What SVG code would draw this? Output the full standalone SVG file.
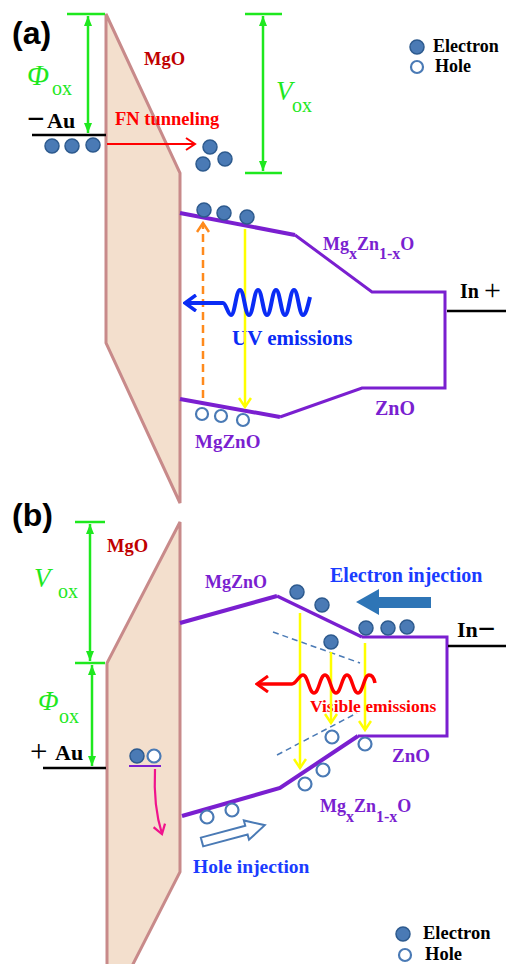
<svg xmlns="http://www.w3.org/2000/svg" width="506" height="964" viewBox="0 0 506 964">
<style>
.lbl{font-family:"Liberation Serif","Times New Roman",serif;font-weight:bold}
.pan{font-family:"Liberation Sans",Arial,sans-serif;font-weight:bold;font-size:32px;fill:#000}
.grn{font-family:"Liberation Serif","Times New Roman",serif;fill:#1ee81e}
.pur{fill:#7a1fd0}
.barrier{fill:#f3dfcd;stroke:#c88a8a;stroke-width:3;stroke-linejoin:miter}
.gline{stroke:#1ee81e;stroke-width:2.5;fill:none}
.band{stroke:#7a1fd0;fill:none;stroke-linejoin:miter}
.blk{stroke:#000;stroke-width:2.5}
.el{fill:#4a7ab5;stroke:#2d5a8e;stroke-width:1.5}
.ho{fill:#fff;stroke:#4a7ab5;stroke-width:2.2}
.yel{stroke:#ffff00;stroke-width:2.5;fill:none}
.dsh{stroke:#4a7ab5;stroke-width:1.5;stroke-dasharray:6 4;fill:none}
</style>
<defs>
<marker id="gh" markerUnits="userSpaceOnUse" markerWidth="10" markerHeight="8" refX="10" refY="4" orient="auto-start-reverse"><path d="M0,0 L10,4 L0,8 Z" fill="#1ee81e"/></marker>
<marker id="yh" markerUnits="userSpaceOnUse" markerWidth="12" markerHeight="14" refX="10" refY="7" orient="auto"><path d="M1,1 L10,7 L1,13" fill="none" stroke="#ffff00" stroke-width="2.5"/></marker>
<marker id="oh" markerUnits="userSpaceOnUse" markerWidth="12" markerHeight="14" refX="10" refY="7" orient="auto"><path d="M1,1 L10,7 L1,13" fill="none" stroke="#ff8a1c" stroke-width="2.5"/></marker>
<marker id="rh" markerUnits="userSpaceOnUse" markerWidth="12" markerHeight="14" refX="10" refY="7" orient="auto"><path d="M1,1 L10,7 L1,13" fill="none" stroke="#ff0000" stroke-width="2"/></marker>
<marker id="bwh" markerUnits="userSpaceOnUse" markerWidth="14" markerHeight="18" refX="12" refY="9" orient="auto-start-reverse"><path d="M1,1 L12,9 L1,17" fill="none" stroke="#0a2cf5" stroke-width="3.5"/></marker>
<marker id="rwh" markerUnits="userSpaceOnUse" markerWidth="14" markerHeight="18" refX="12" refY="9" orient="auto-start-reverse"><path d="M1,1 L12,9 L1,17" fill="none" stroke="#ff0000" stroke-width="3"/></marker>
<marker id="ph" markerUnits="userSpaceOnUse" markerWidth="12" markerHeight="14" refX="10" refY="7" orient="auto"><path d="M1,1 L10,7 L1,13" fill="none" stroke="#f0148c" stroke-width="2.2"/></marker>
</defs>

<!-- ===== Panel (a) ===== -->
<g id="panel-a-label"><text class="pan" x="12" y="44">(a)</text></g>
<g id="barrier-a"><polygon class="barrier" points="106,14 180,173 180,503 106,343"/></g>
<g id="mgo-a"><text class="lbl" x="144" y="65" font-size="18.5" fill="#c00000">MgO</text></g>

<g id="au-a">
<line class="blk" x1="32" y1="135" x2="106" y2="135"/>
<text class="lbl" x="27" y="129" font-size="31" fill="#000">−</text>
<text class="lbl" x="47" y="128" font-size="22" fill="#000">Au</text>
<circle class="el" cx="52" cy="146" r="7"/>
<circle class="el" cx="72" cy="146" r="7"/>
<circle class="el" cx="93" cy="145" r="7"/>
</g>

<g id="phi-a">
<line class="gline" x1="67" y1="14" x2="105" y2="14"/>
<text class="grn" x="27" y="85" font-size="29" font-style="italic">Φ</text>
<text class="grn" x="52" y="95" font-size="20">ox</text>
</g>
<g id="vox-a">
<line class="gline" x1="245" y1="14" x2="282" y2="14"/>
<line class="gline" x1="245" y1="173" x2="282" y2="173"/>
<text class="grn" x="276" y="100" font-size="27" font-style="italic">V</text>
<text class="grn" x="292" y="112" font-size="20">ox</text>
</g>

<g id="fn-a">
<text class="lbl" x="115" y="125" font-size="18.5" fill="#ff0000">FN tunneling</text>
<circle class="el" cx="210" cy="147" r="7"/>
<circle class="el" cx="225" cy="159" r="7"/>
<circle class="el" cx="203" cy="164" r="7"/>
</g>

<g id="bands-a">
<path class="band" stroke-width="4" d="M180,213 L295,235"/>
<path class="band" stroke-width="3" d="M295,235 L372,292 L445,292 L445,388 L362,388 L280,417"/>
<path class="band" stroke-width="4" d="M280,417 L180,399"/>
<text class="lbl pur" font-size="18"><tspan x="323" y="250">Mg</tspan><tspan font-size="16" dy="9">x</tspan><tspan dy="-9">Zn</tspan><tspan font-size="16" dy="9">1-x</tspan><tspan dy="-9">O</tspan></text>
<text class="lbl pur" x="375" y="415" font-size="20">ZnO</text>
<text class="lbl pur" x="195" y="448" font-size="19">MgZnO</text>
</g>

<g id="in-a">
<line class="blk" x1="447" y1="311" x2="506" y2="311"/>
<text class="lbl" x="460" y="298" font-size="20" fill="#000">In</text>
<text x="484" y="300" font-size="30" fill="#000" font-family="Liberation Serif,serif">+</text>
</g>

<g id="carriers-a">
<circle class="el" cx="204" cy="210" r="7"/>
<circle class="el" cx="224" cy="213" r="7"/>
<circle class="el" cx="247" cy="217" r="7"/>
<circle class="ho" cx="202" cy="414" r="6"/>
<circle class="ho" cx="221" cy="416" r="6"/>
<circle class="ho" cx="243" cy="420" r="6"/>
</g>

<g id="uv-a">
<text class="lbl" x="232" y="345" font-size="21" fill="#0a2cf5">UV emissions</text>
</g>

<g id="legend-a">
<circle class="el" cx="417" cy="47" r="7"/>
<text class="lbl" x="433" y="52" font-size="18" fill="#000">Electron</text>
<circle class="ho" cx="417" cy="67" r="6"/>
<text class="lbl" x="435" y="72" font-size="18" fill="#000">Hole</text>
</g>

<!-- ===== Panel (b) ===== -->
<g id="panel-b-label"><text class="pan" x="12" y="526">(b)</text></g>
<g id="barrier-b"><polygon class="barrier" points="180,522 180,872 130,970 107,970 107,663"/></g>
<g id="mgo-b"><text class="lbl" x="107" y="552" font-size="18.5" fill="#c00000">MgO</text></g>

<g id="vox-b">
<line class="gline" x1="75" y1="522" x2="105" y2="522"/>
<line class="gline" x1="75" y1="663" x2="105" y2="663"/>
<text class="grn" x="34" y="587" font-size="27" font-style="italic">V</text>
<text class="grn" x="58" y="598" font-size="20">ox</text>
</g>
<g id="phi-b">
<text class="grn" x="38" y="710" font-size="27" font-style="italic">Φ</text>
<text class="grn" x="59" y="723" font-size="20">ox</text>
</g>

<g id="au-b">
<line class="blk" x1="43" y1="768" x2="106" y2="768"/>
<text x="30" y="762" font-size="31" fill="#000" font-family="Liberation Serif,serif">+</text>
<text class="lbl" x="55" y="760" font-size="22" fill="#000">Au</text>
</g>

<g id="pair-b">
<line x1="129" y1="766" x2="161" y2="766" stroke="#7a1fd0" stroke-width="2"/>
<circle class="el" cx="137" cy="756" r="7"/>
<circle class="ho" cx="154" cy="756" r="6.5"/>
</g>

<g id="bands-b">
<path class="band" stroke-width="4" d="M180,623 L277,596"/>
<path class="band" stroke-width="3.5" d="M277,596 L362,637"/>
<path class="band" stroke-width="3" d="M362,637 L447,637 L447,736 L358,736"/>
<path class="band" stroke-width="4" d="M358,736 L280,788 L182,816"/>
<text class="lbl pur" x="205" y="588" font-size="18">MgZnO</text>
<text class="lbl pur" x="392" y="762" font-size="19">ZnO</text>
<text class="lbl pur" font-size="18"><tspan x="320" y="812">Mg</tspan><tspan font-size="16" dy="10">x</tspan><tspan dy="-10">Zn</tspan><tspan font-size="16" dy="10">1-x</tspan><tspan dy="-10">O</tspan></text>
</g>

<g id="in-b">
<line class="blk" x1="448" y1="646" x2="506" y2="646"/>
<text class="lbl" x="457" y="637" font-size="22" fill="#000">In<tspan font-size="31" dy="2">−</tspan></text>
</g>

<g id="electron-injection-b">
<text class="lbl" x="330" y="582" font-size="20" fill="#1a3cff">Electron injection</text>
<polygon points="356,602 379,589 379,597 431,597 431,608 379,608 379,615" fill="#2e75b6"/>
</g>

<g id="carriers-b">
<circle class="el" cx="297" cy="592" r="7"/>
<circle class="el" cx="322" cy="605" r="7"/>
<circle class="el" cx="366" cy="628" r="7"/>
<circle class="el" cx="388" cy="628" r="7"/>
<circle class="el" cx="407" cy="627" r="7"/>
<circle class="el" cx="331" cy="642" r="7"/>
<circle class="ho" cx="332" cy="737" r="6.5"/>
<circle class="ho" cx="365" cy="744" r="6.5"/>
<circle class="ho" cx="323" cy="770" r="6.5"/>
<circle class="ho" cx="305" cy="784" r="6.5"/>
<circle class="ho" cx="232" cy="810" r="6.5"/>
<circle class="ho" cx="207" cy="817" r="6.5"/>
</g>

<g id="visible-b">
<text class="lbl" x="310" y="712" font-size="17.5" fill="#ff0000">Visible emissions</text>
</g>

<g id="hole-injection-b">
<path d="M0,-4.5 L46,-4.5 L46,-10 L65,0 L46,10 L46,4.5 L0,4.5 Z" transform="translate(202,842) rotate(-15)" fill="#fff" stroke="#4a7ab5" stroke-width="2"/>
<text class="lbl" x="193" y="873" font-size="19.5" fill="#1a3cff">Hole injection</text>
</g>

<g id="legend-b">
<circle class="el" cx="403" cy="934" r="7"/>
<text class="lbl" x="423" y="939" font-size="18.5" fill="#000">Electron</text>
<circle class="ho" cx="405" cy="955" r="6"/>
<text class="lbl" x="425" y="960" font-size="18.5" fill="#000">Hole</text>
</g>

<!-- ===== Connectors ===== -->
<g id="connectors">
<line class="gline" x1="88" y1="16" x2="88" y2="133" marker-start="url(#gh)" marker-end="url(#gh)"/>
<line class="gline" x1="263" y1="16" x2="263" y2="171" marker-start="url(#gh)" marker-end="url(#gh)"/>
<line x1="107" y1="144" x2="195" y2="144" stroke="#ff0000" stroke-width="2" marker-end="url(#rh)"/>
<line x1="203" y1="398" x2="203" y2="223" stroke="#ff8a1c" stroke-width="2.5" stroke-dasharray="8 5" marker-end="url(#oh)"/>
<line class="yel" x1="245" y1="229" x2="245" y2="407" marker-end="url(#yh)"/>
<path d="M185,303 H223 C226,303 228,315 231,315 C235,315 236,290 240,290 C244,290 245,315 249,315 C253,315 254,290 258,290 C262,290 263,315 267,315 C271,315 272,290 276,290 C280,290 281,315 285,315 C289,315 290,290 294,290 C298,290 299,315 303,315 C306,315 308,305 310,297" fill="none" stroke="#0a2cf5" stroke-width="4" marker-start="url(#bwh)"/>

<line class="gline" x1="90" y1="524" x2="90" y2="661" marker-start="url(#gh)" marker-end="url(#gh)"/>
<line class="gline" x1="92" y1="665" x2="92" y2="766" marker-start="url(#gh)" marker-end="url(#gh)"/>
<path d="M155,769 C154,790 156,815 162,834" fill="none" stroke="#f0148c" stroke-width="2.2" marker-end="url(#ph)"/>
<line class="dsh" x1="273" y1="632" x2="360" y2="663"/>
<line class="dsh" x1="277" y1="755" x2="357" y2="713"/>
<line class="yel" x1="300" y1="613" x2="300" y2="768" marker-end="url(#yh)"/>
<line class="yel" x1="331" y1="652" x2="331" y2="723" marker-end="url(#yh)"/>
<line class="yel" x1="365" y1="643" x2="365" y2="730" marker-end="url(#yh)"/>
<path d="M257,684 H292 C296,684 299,675 303,675 C308,675 309,693 314,693 C319,693 320,675 325,675 C330,675 331,693 336,693 C341,693 342,675 347,675 C352,675 353,693 358,693 C363,693 364,675 369,675 C372,675 374,678 375,683" fill="none" stroke="#ff0000" stroke-width="3.5" marker-start="url(#rwh)"/>
</g>
</svg>
